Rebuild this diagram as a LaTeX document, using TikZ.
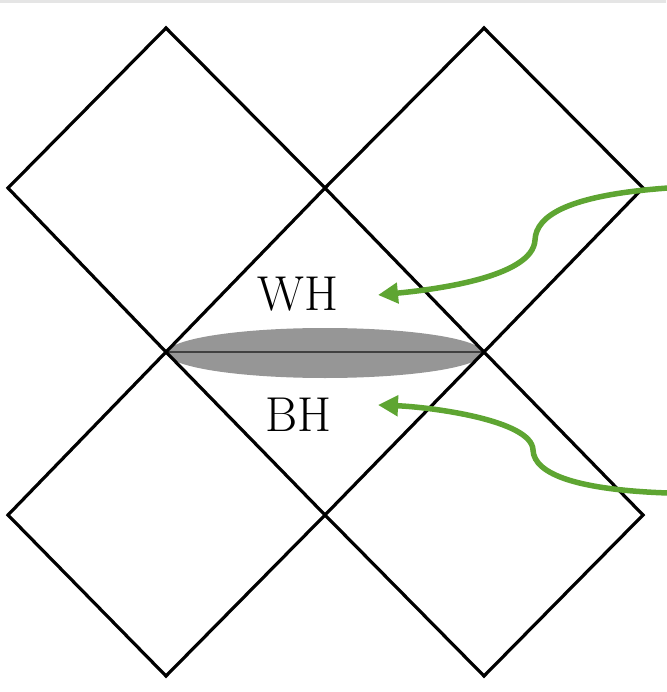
\documentclass[tikz,border=0pt]{standalone}
\usetikzlibrary{arrows.meta}
\definecolor{arrowgreen}{RGB}{94,165,50}
\definecolor{ellgray}{RGB}{150,150,150}
\begin{document}
\begin{tikzpicture}[x=1pt,y=-1pt,
  outer/.style={line width=3.2pt,black,line join=miter},
  inner/.style={line width=1.5pt,black!80},
  green arrow/.style={line width=5.5pt,arrowgreen,-{Triangle[length=20pt,width=20pt]}},
  lbl/.style={font=\fontsize{49}{52}\selectfont,inner sep=0pt}]
\useasboundingbox (0,0) rectangle (666,692);
\fill[black!10] (0,0) rectangle (666,3);
% vertices
\coordinate (T1) at (166,28);
\coordinate (T2) at (484,28);
\coordinate (L1) at (8,188);
\coordinate (C) at (325,188);
\coordinate (R1) at (643,188);
\coordinate (ML) at (166,352);
\coordinate (MR) at (484,352);
\coordinate (L2) at (8,515);
\coordinate (CB) at (325,515);
\coordinate (R2) at (643,515);
\coordinate (B1) at (166,676);
\coordinate (B2) at (484,676);
% ellipse
\fill[ellgray] (325,353) ellipse [x radius=158, y radius=25];
\draw[line width=2.5pt,black!75] (ML) -- (MR);
% inner diamond
\draw[inner] (C) -- (ML) -- (CB) -- (MR) -- cycle;
% outer diamonds
\draw[outer] (T1) -- (L1) -- (ML) -- (C) -- cycle;
\draw[outer] (T2) -- (C) -- (MR) -- (R1) -- cycle;
\draw[outer] (ML) -- (L2) -- (B1) -- (CB) -- cycle;
\draw[outer] (MR) -- (CB) -- (B2) -- (R2) -- cycle;
% labels
\node[lbl] (wh) at (298,294) {WH};
\node[lbl] (bh) at (298,415) {BH};
% arrows
\coordinate (s1) at (668,188);
\coordinate (s2) at (668,493);
\coordinate (e1) at (378,295);
\coordinate (e2) at (378,405);
\draw[green arrow] (s1) .. controls (570,195) and (536,215) .. (535,240)
  .. controls (533,278) and (430,290) .. (e1);
\draw[green arrow] (s2) .. controls (580,490) and (534,475) .. (533,450)
  .. controls (532,420) and (430,407) .. (e2);
\end{tikzpicture}
\end{document}
